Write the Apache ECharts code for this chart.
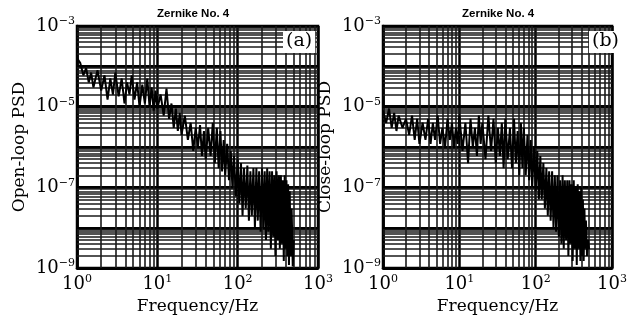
<!DOCTYPE html>
<html>
<head>
<meta charset="utf-8">
<script src="https://cdn.jsdelivr.net/npm/echarts@6/dist/echarts.min.js"></script>
<style>
html,body{margin:0;padding:0;background:#fff;}
#chart{width:630px;height:320px;}
</style>
</head>
<body>
<div id="chart"></div>
<script>
// frequency bins (Hz) shared by both panels
var freq = [
  1.0,1.1,1.2,1.3,1.4,1.5,1.6,1.8,2.0,2.2,
  2.4,2.6,2.8,3.0,3.3,3.6,3.9,4.2,4.5,4.8,
  5.2,5.6,6.0,6.5,7.0,7.5,8.0,8.5,9.0,9.5,
  10,11,12,13,14,15,16,17,18,19,
  20,22,24,26,28,30,32,34,36,38,
  40,43,46,49,52,55,58,61,64,67,
  70,74,78,82,86,90,95,100,105,110,
  115,120,126,132,138,144,150,157,164,171,
  178,185,193,201,209,217,225,233,241,250,
  259,268,277,286,295,305,315,325,335,345,
  355,365,375,385,395,405,415,425,435,445,
  455,470,485,500
];

// (a) open-loop PSD
var openLoop = [
  1.6e-4,1.2e-4,6e-5,9e-5,4e-5,7e-5,3e-5,8e-5,2.5e-5,6e-5,
  1.5e-5,5e-5,2e-5,7e-5,1.8e-5,5e-5,1.2e-5,4e-5,2e-5,6e-5,
  1.5e-5,4e-5,1e-5,3.5e-5,1.2e-5,5e-5,1e-5,3e-5,8e-6,2.5e-5,
  9e-6,2e-5,6e-6,2.8e-5,5e-6,1.2e-5,3e-6,9e-6,2.5e-6,7e-6,
  2e-6,6e-6,1.5e-6,4e-6,8e-7,3e-6,1e-6,3.5e-6,6e-7,2.5e-6,
  5e-7,3e-6,6e-7,4e-6,4e-7,3e-6,3e-7,2.5e-6,2.5e-7,1.5e-6,
  2e-7,1.2e-6,1.5e-7,8e-7,1e-7,6e-7,6e-8,5e-7,4e-8,4e-7,
  2e-8,3e-7,3e-8,3.5e-7,1.5e-8,2.5e-7,2e-8,3e-7,1e-8,3e-7,
  1.5e-8,2.5e-7,8e-9,3e-7,1e-8,2.5e-7,5e-9,3e-7,8e-9,2.5e-7,
  3e-9,2.5e-7,6e-9,2e-7,2e-9,2.5e-7,5e-9,2e-7,3e-9,2e-7,
  4e-9,1.5e-7,1.5e-9,2e-7,3e-9,1.5e-7,2e-9,1.2e-7,1.2e-9,8e-8,
  2e-9,3e-8,1.1e-9,5e-9
];

// (b) close-loop PSD
var closeLoop = [
  8e-6,4e-6,9e-6,3e-6,7e-6,2.5e-6,6e-6,3e-6,5e-6,2e-6,
  6e-6,1.5e-6,5e-6,1.2e-6,4e-6,1.5e-6,5e-6,1.2e-6,4e-6,1.5e-6,
  6e-6,1.2e-6,3e-6,1e-6,5e-6,1.5e-6,4e-6,1e-6,3e-6,1.2e-6,
  6e-6,8e-7,4e-6,4e-7,5e-6,1e-6,3e-6,6e-7,6e-6,1.2e-6,
  4e-6,5e-7,6e-6,8e-7,5e-6,4e-7,3e-6,6e-7,4e-6,3e-7,
  5e-6,5e-7,3e-6,3e-7,5e-6,4e-7,2.5e-6,2e-7,4e-6,3e-7,
  3e-6,2e-7,2e-6,1.5e-7,1.5e-6,1e-7,1e-6,8e-8,8e-7,5e-8,
  6e-7,5e-8,4e-7,3e-8,3e-7,2e-8,2.5e-7,1.5e-8,2.5e-7,1e-8,
  2e-7,8e-9,2e-7,6e-9,1.5e-7,4e-9,2e-7,3e-9,1.5e-7,5e-9,
  1.5e-7,2e-9,1.5e-7,4e-9,1.2e-7,1.5e-9,1.5e-7,3e-9,1e-7,1.2e-9,
  1.2e-7,3e-9,8e-8,1.5e-9,1e-7,2e-9,5e-8,1.5e-9,3e-8,3e-9,
  1.5e-8,2e-9,5e-9,3e-9
];

var panelTitles = ["Zernike No. 4", "Zernike No. 4"];
var panelTags = ["(a)", "(b)"];
var yNames = ["Open-loop PSD", "Close-loop PSD"];
var xName = "Frequency/Hz";
var yLabelExps = [-3, -5, -7, -9];

// minor grid positions (2..9 within each decade)
var xDecades = [1, 10, 100];
var yDecades = [1e-9, 1e-8, 1e-7, 1e-6, 1e-5, 1e-4];
var mults = [2, 3, 4, 5, 6, 7, 8, 9];
var X_MIN = 1, X_MAX = 1000, Y_MIN = 1e-9, Y_MAX = 1e-3;

var SERIF = "DejaVu Serif";
var minus = "\u2212";

function expLabel(v) {
  var e = Math.round(Math.log10(v));
  var s = e < 0 ? minus + Math.abs(e) : String(e);
  return "{b|10}{s|" + s + "}";
}
function yLabel(v) {
  var e = Math.round(Math.log10(v));
  if (yLabelExps.indexOf(e) < 0) return "";
  return expLabel(v);
}
var rich = {
  b: { fontFamily: SERIF, fontSize: 18, color: "#000" },
  s: { fontFamily: SERIF, fontSize: 11, color: "#000", padding: [0, 0, 9, 0] }
};

// minor grid as two-point mark lines through the axes' own scales
var minorLines = [];
xDecades.forEach(function (d) {
  mults.forEach(function (m) {
    minorLines.push([{ coord: [d * m, Y_MIN] }, { coord: [d * m, Y_MAX] }]);
  });
});
yDecades.forEach(function (d) {
  mults.forEach(function (m) {
    minorLines.push([{ coord: [X_MIN, d * m] }, { coord: [X_MAX, d * m] }]);
  });
});

var grids = [
  { left: 77, top: 26, width: 241, height: 251 },
  { left: 383, top: 26, width: 241, height: 251 }
];
var titleLeft = [157, 462];

var xAxes = [], yAxes = [], series = [], titles = [];
[0, 1].forEach(function (i) {
  grids[i].show = true;
  grids[i].borderColor = "#000";
  grids[i].borderWidth = 2.5;
  grids[i].backgroundColor = "#fff";
  xAxes.push({
    type: "log", logBase: 10, gridIndex: i, min: X_MIN, max: X_MAX, interval: 1,
    name: xName, nameLocation: "middle", nameGap: 25,
    nameTextStyle: { fontFamily: SERIF, fontSize: 17, color: "#000" },
    axisLine: { lineStyle: { color: "#000", width: 2.5 } },
    axisTick: { show: false },
    axisLabel: { formatter: expLabel, rich: rich, margin: 6, showMinLabel: true, showMaxLabel: true },
    splitLine: { show: true, lineStyle: { color: "#000", width: 2.5 } }
  });
  yAxes.push({
    type: "log", logBase: 10, gridIndex: i, min: Y_MIN, max: Y_MAX, interval: 1,
    name: yNames[i], nameLocation: "middle", nameGap: 49,
    nameTextStyle: { fontFamily: SERIF, fontSize: 17, color: "#000" },
    axisLine: { lineStyle: { color: "#000", width: 2.5 } },
    axisTick: { show: false },
    axisLabel: { formatter: yLabel, rich: rich, margin: 2, interval: 0, showMinLabel: true, showMaxLabel: true },
    splitLine: { show: true, lineStyle: { color: "#000", width: 3 } }
  });
  // minor grid, drawn under the data
  series.push({
    type: "line", xAxisIndex: i, yAxisIndex: i, data: [], z: 1, silent: true,
    markLine: {
      silent: true, symbol: "none", animation: false,
      label: { show: false },
      emphasis: { disabled: true },
      lineStyle: { color: "#1a1a1a", width: 1.6, type: "solid" },
      data: minorLines
    }
  });
  var vals = i === 0 ? openLoop : closeLoop;
  series.push({
    type: "line", xAxisIndex: i, yAxisIndex: i, z: 5,
    data: freq.map(function (f, k) { return [f, vals[k]]; }),
    symbol: "none", animation: false,
    lineStyle: { color: "#000", width: 2 }
  });
  titles.push({
    text: panelTitles[i], left: titleLeft[i], top: 8, padding: 0,
    textStyle: { fontFamily: "Liberation Sans", fontSize: 11.5, fontWeight: "bold", color: "#000" }
  });
  titles.push({
    text: panelTags[i], left: grids[i].left + grids[i].width - 35, top: 31,
    backgroundColor: "#fff", padding: [1, 3, 2, 3],
    textStyle: { fontFamily: SERIF, fontSize: 19, fontWeight: "normal", color: "#000" }
  });
});

var chart = echarts.init(document.getElementById("chart"), null, { renderer: "canvas" });
chart.setOption({
  animation: false,
  backgroundColor: "#fff",
  title: titles,
  grid: grids,
  xAxis: xAxes,
  yAxis: yAxes,
  series: series
});
</script>
</body>
</html>
